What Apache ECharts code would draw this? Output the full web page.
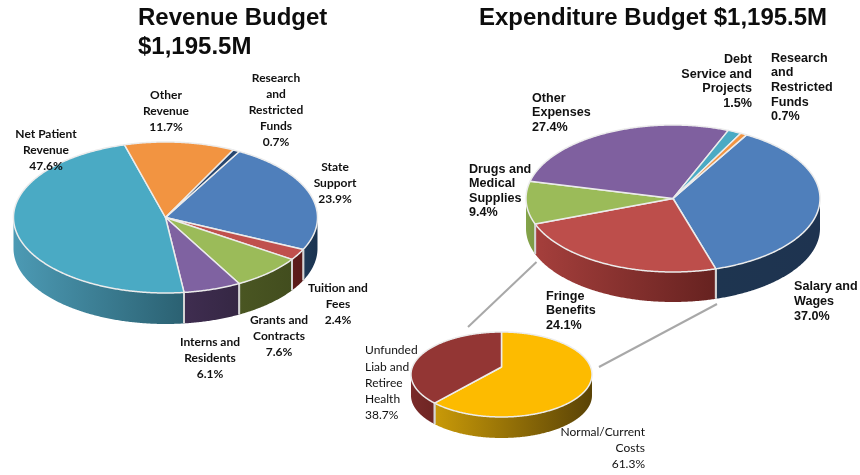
<!DOCTYPE html>
<html>
<head>
<meta charset="utf-8">
<style>html,body{margin:0;padding:0;background:#fff}#chart{width:860px;height:475px}</style>
<script src="https://cdn.jsdelivr.net/npm/echarts@6/dist/echarts.min.js"></script>
</head>
<body>
<div id="chart"></div>
<script>
// Budget figures, percent of total, clockwise from each pie's first slice
const revenueNames = ['State\nSupport', 'Tuition and\nFees', 'Grants and\nContracts', 'Interns and\nResidents', 'Net Patient\nRevenue', 'Other\nRevenue', 'Research\nand\nRestricted\nFunds'];
const revenueValues = [23.9, 2.4, 7.6, 6.1, 47.6, 11.7, 0.7];
const expenseNames = ['Salary and\nWages', 'Fringe\nBenefits', 'Drugs and\nMedical\nSupplies', 'Other\nExpenses', 'Debt\nService and\nProjects', 'Research\nand\nRestricted\nFunds'];
const expenseValues = [37.0, 24.1, 9.4, 27.4, 1.5, 0.7];
const fringeNames = ['Normal/Current\nCosts', 'Unfunded\nLiab and\nRetiree\nHealth'];
const fringeValues = [61.3, 38.7];

// Slice faces and rim shades
const revenueColors = ['#4f7fbb', '#c0504d', '#9bbb59', '#7f62a1', '#4aaac4', '#f29441', '#27466f'];
const revenueRims = [['#1f3a58', '#1a3350'], ['#5e1c1b', '#581a19'], ['#4a5622', '#424d1e'], ['#3f2d50', '#352744'], ['#4c9ab4', '#2b6172'], ['#b56a2b', '#b56a2b'], ['#1a3350', '#1a3350']];
const expenseColors = ['#4f7fbb', '#bd4e4b', '#9bbb59', '#7f609f', '#4aaac4', '#f29441'];
const expenseRims = [['#1e3550', '#1e3350'], ['#a53f3c', '#662220'], ['#84a44a', '#7c9a44'], ['#5a4372', '#5a4372'], ['#357a8c', '#357a8c'], ['#b56a2b', '#b56a2b']];
const fringeColors = ['#fdbb00', '#933634'];
const fringeRims = [['#c99a08', '#5a4306'], ['#7a2b2a', '#6e2523']];

const boldCalibri = 'bold 12px Lato, sans-serif';
const boldArial = 'bold 12.6px "Liberation Sans", Arial, sans-serif';
const plainCalibri = '12px Lato, sans-serif';

// Anchor of each label's block: x, vertical middle, alignment
const revenueSpots = [[335, 183, 'center'], [338, 304.5, 'center'], [279, 336, 'center'], [210, 358, 'center'], [46, 150, 'center'], [166, 111, 'center'], [276, 110.5, 'center']];
const expenseSpots = [[794, 301.5, 'left'], [546, 311, 'left'], [469, 191, 'left'], [532, 113, 'left'], [752, 81.5, 'right'], [771, 87.5, 'left']];
const fringeSpots = [[645, 448, 'right'], [365, 383, 'left']];

const revenuePie = { cx: 165.5, cy: 217.5, rx: 152, ry: 75.5, depth: 31, start: 29, tilt: 0, font: boldCalibri, lineHeight: 16 };
const expensePie = { cx: 673, cy: 198.5, rx: 147, ry: 73.5, depth: 30, start: 30, tilt: 0, font: boldArial, lineHeight: 14.6 };
const fringePie = { cx: 501.5, cy: 374.5, rx: 90.5, ry: 42.5, depth: 21, start: 0, tilt: -0.176, font: plainCalibri, lineHeight: 16.3 };

// Perspective map of a circle angle (degrees clockwise from top) onto the pie's ellipse
function rimPoint(pie, deg) {
  const a = deg * Math.PI / 180;
  const u = Math.sin(a), v = -Math.cos(a), b = pie.tilt;
  const d = 1 + b * v;
  return [pie.cx + pie.rx * u * Math.sqrt(1 - b * b) / d, pie.cy + pie.ry * (v + b) / d];
}

function pieSeries(pie, names, values, colors, rims, spots) {
  const total = values.reduce((s, v) => s + v, 0);
  const starts = [];
  values.reduce((acc, v, i) => { starts[i] = acc; return acc + v; }, 0);
  const apexY = pie.cy + pie.ry * pie.tilt;
  return {
    type: 'custom',
    coordinateSystem: 'none',
    silent: true,
    animation: false,
    data: values,
    renderItem(params, api) {
      const i = params.dataIndex;
      const value = api.value(0);
      const from = pie.start + starts[i] / total * 360;
      const to = from + value / total * 360;
      const steps = Math.max(4, Math.ceil((to - from) * 2));
      const arc = [];
      for (let k = 0; k <= steps; k++) arc.push(rimPoint(pie, from + (to - from) * k / steps));

      const children = [];
      // Side wall: the part of the arc on the near half of the ellipse
      const near = arc.filter(p => p[1] >= pie.cy);
      if (near.length > 1) {
        const lower = near.map(p => [p[0], p[1] + pie.depth]).reverse();
        children.push({
          type: 'polygon',
          shape: { points: near.concat(lower) },
          style: {
            fill: new echarts.graphic.LinearGradient(0, 0, 1, 0, [
              { offset: 0, color: rims[i][0] }, { offset: 1, color: rims[i][1] }
            ])
          }
        });
        [arc[0], arc[arc.length - 1]].forEach(p => {
          if (p[1] > pie.cy + 2) {
            children.push({
              type: 'line',
              shape: { x1: p[0], y1: p[1], x2: p[0], y2: p[1] + pie.depth },
              style: { stroke: '#d4d4d4', lineWidth: 2 }
            });
          }
        });
      }
      // Top face
      children.push({
        type: 'polygon',
        shape: { points: [[pie.cx, apexY]].concat(arc) },
        style: { fill: colors[i], stroke: '#ececec', lineWidth: 1.5, lineJoin: 'round' }
      });
      // Category and share
      children.push({
        type: 'text',
        z2: 10,
        style: {
          text: names[i] + '\n' + value.toFixed(1) + '%',
          x: spots[i][0],
          y: spots[i][1],
          align: spots[i][2],
          verticalAlign: 'middle',
          font: pie.font,
          lineHeight: pie.lineHeight,
          fill: '#111111'
        }
      });
      return { type: 'group', children };
    }
  };
}

const titleStyle = { fontFamily: '"Liberation Sans", Arial, sans-serif', fontWeight: 'bold', fontSize: 24, lineHeight: 29, color: '#0d0d0d' };

const chart = echarts.init(document.getElementById('chart'), null, { renderer: 'canvas' });
chart.setOption({
  backgroundColor: '#ffffff',
  animation: false,
  title: [
    { text: 'Revenue Budget\n$1,195.5M', left: 138, top: 4, padding: 0, textStyle: titleStyle },
    { text: 'Expenditure Budget $1,195.5M', left: 479, top: 4, padding: 0, textStyle: titleStyle }
  ],
  // Leader lines from the Fringe Benefits slice to its breakdown pie
  graphic: [
    { type: 'line', silent: true, shape: { x1: 536.5, y1: 262, x2: 468, y2: 327 }, style: { stroke: '#a8a8a8', lineWidth: 2 } },
    { type: 'line', silent: true, shape: { x1: 717, y1: 304, x2: 599, y2: 367 }, style: { stroke: '#a8a8a8', lineWidth: 2 } }
  ],
  series: [
    pieSeries(revenuePie, revenueNames, revenueValues, revenueColors, revenueRims, revenueSpots),
    pieSeries(expensePie, expenseNames, expenseValues, expenseColors, expenseRims, expenseSpots),
    pieSeries(fringePie, fringeNames, fringeValues, fringeColors, fringeRims, fringeSpots)
  ]
});
</script>
</body>
</html>
